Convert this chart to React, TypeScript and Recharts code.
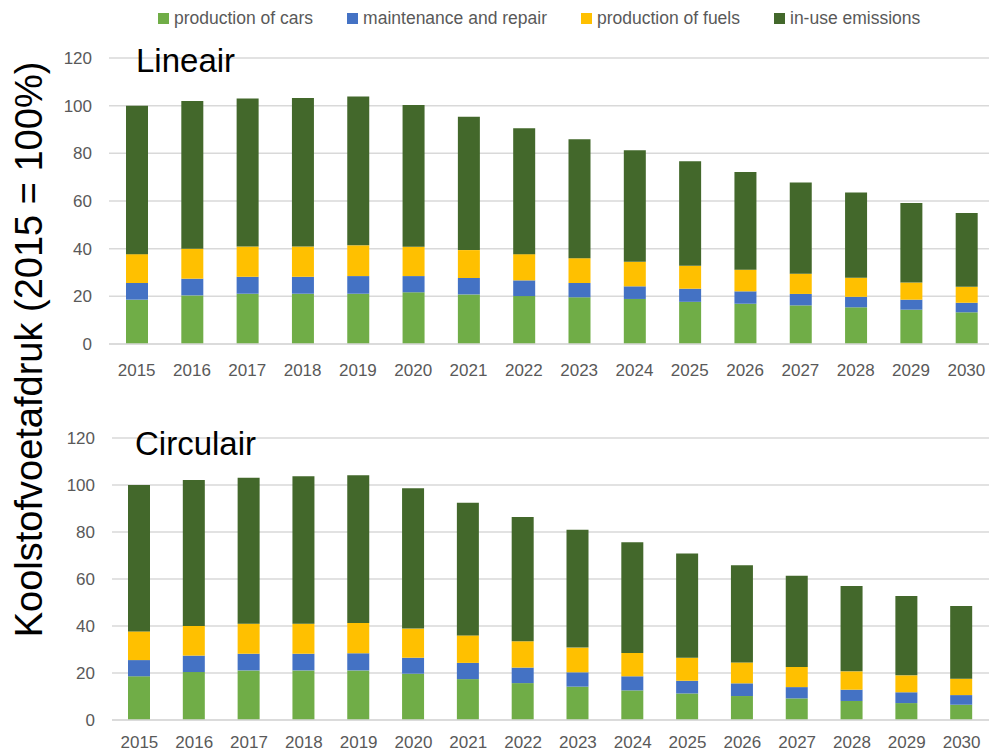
import { BarChart, Bar, XAxis, YAxis, CartesianGrid } from "recharts";

const years = [
  "2015", "2016", "2017", "2018", "2019", "2020", "2021", "2022",
  "2023", "2024", "2025", "2026", "2027", "2028", "2029", "2030",
];

// Lineair
const linCars = [18.6, 20.4, 21.1, 21.1, 21.1, 21.7, 20.8, 20.1, 19.6, 18.9, 17.7, 16.9, 16.2, 15.4, 14.4, 13.3];
const linMaint = [7.0, 7.0, 7.1, 7.1, 7.4, 6.8, 6.9, 6.6, 6.0, 5.3, 5.5, 5.2, 4.8, 4.4, 4.2, 4.0];
const linFuels = [12.1, 12.6, 12.7, 12.7, 12.9, 12.3, 11.7, 11.0, 10.4, 10.3, 9.6, 9.1, 8.5, 8.0, 7.2, 6.7];
const linUse = [62.3, 62.0, 62.1, 62.3, 62.4, 59.5, 56.0, 52.8, 49.9, 46.8, 43.9, 41.0, 38.3, 35.8, 33.4, 31.0];

// Circulair
const circCars = [18.6, 20.4, 21.1, 21.1, 21.1, 19.7, 17.4, 15.7, 14.2, 12.6, 11.3, 10.2, 9.2, 8.1, 7.2, 6.5];
const circMaint = [6.9, 7.0, 7.1, 7.1, 7.3, 6.8, 6.9, 6.6, 6.1, 6.0, 5.4, 5.4, 4.8, 4.8, 4.6, 4.1];
const circFuels = [12.2, 12.6, 12.8, 12.8, 12.9, 12.4, 11.7, 11.2, 10.5, 9.9, 9.8, 8.9, 8.6, 7.8, 7.2, 7.0];
const circUse = [62.3, 62.1, 62.1, 62.7, 62.8, 59.7, 56.5, 52.9, 50.2, 47.1, 44.3, 41.3, 38.8, 36.3, 33.8, 30.9];

const yTicks = [0, 20, 40, 60, 80, 100, 120];

const series = [
  { key: "cars", name: "production of cars", color: "#70AD47" },
  { key: "maint", name: "maintenance and repair", color: "#4472C4" },
  { key: "fuels", name: "production of fuels", color: "#FFC000" },
  { key: "use", name: "in-use emissions", color: "#43682B" },
];

function toRows(cars: number[], maint: number[], fuels: number[], use: number[]) {
  return years.map((year, i) => ({
    year,
    cars: cars[i],
    maint: maint[i],
    fuels: fuels[i],
    use: use[i],
  }));
}

const linData = toRows(linCars, linMaint, linFuels, linUse);
const circData = toRows(circCars, circMaint, circFuels, circUse);

const tickStyle = { fontSize: 17, fill: "#595959" };

function Panel({
  data,
  width,
  height,
  right,
  yWidth,
  xMargin,
}: {
  data: any[];
  width: number;
  height: number;
  right: number;
  yWidth: number;
  xMargin: number;
}) {
  return (
    <BarChart
      width={width}
      height={height}
      data={data}
      margin={{ top: 58, right, bottom: 0, left: 0 }}
      barSize={22}
    >
      <CartesianGrid vertical={false} stroke="#d9d9d9" strokeWidth={1.5} />
      <XAxis
        dataKey="year"
        height={40}
        tick={tickStyle}
        tickSize={0}
        tickMargin={xMargin}
        axisLine={{ stroke: "#d9d9d9", strokeWidth: 1.5 }}
        tickLine={false}
      />
      <YAxis
        width={yWidth}
        domain={[0, 120]}
        ticks={yTicks}
        tick={tickStyle}
        tickSize={0}
        tickMargin={17}
        axisLine={false}
        tickLine={false}
      />
      {series.map((s) => (
        <Bar
          key={s.key}
          dataKey={s.key}
          name={s.name}
          stackId="a"
          fill={s.color}
          isAnimationActive={false}
        />
      ))}
    </BarChart>
  );
}

export default function App() {
  return (
    <div
      style={{
        position: "absolute",
        left: 0,
        top: 0,
        width: 989,
        height: 751,
        overflow: "hidden",
        background: "#fff",
        fontFamily: "'Liberation Sans', Arial, sans-serif",
      }}
    >
      {/* legend */}
      <div
        style={{
          position: "absolute",
          left: 158,
          top: 7,
          display: "flex",
          alignItems: "center",
          gap: 34,
          fontSize: 17.5,
          color: "#595959",
          lineHeight: "22px",
        }}
      >
        {series.map((s) => (
          <div key={s.key} style={{ display: "flex", alignItems: "center" }}>
            <span
              style={{
                display: "inline-block",
                width: 11,
                height: 11,
                background: s.color,
                marginRight: 5,
              }}
            />
            <span>{s.name}</span>
          </div>
        ))}
      </div>

      <div style={{ position: "absolute", left: 0, top: 0 }}>
        <Panel data={linData} width={1000} height={384} right={6} yWidth={109} xMargin={20} />
      </div>
      <div style={{ position: "absolute", left: 0, top: 380 }}>
        <Panel data={circData} width={989} height={380} right={0} yWidth={112} xMargin={16} />
      </div>

      <div
        style={{
          position: "absolute",
          left: 136,
          top: 44,
          fontSize: 33,
          lineHeight: 1,
          color: "#000",
        }}
      >
        Lineair
      </div>
      <div
        style={{
          position: "absolute",
          left: 135,
          top: 427,
          fontSize: 33,
          lineHeight: 1,
          color: "#000",
        }}
      >
        Circulair
      </div>

      <svg
        width={60}
        height={751}
        style={{ position: "absolute", left: 0, top: 0 }}
      >
        <text
          transform="translate(42, 349.5) rotate(-90)"
          textAnchor="middle"
          fontSize={38}
          fill="#000"
          fontFamily="'Liberation Sans', Arial, sans-serif"
        >
          Koolstofvoetafdruk (2015 = 100%)
        </text>
      </svg>
    </div>
  );
}
